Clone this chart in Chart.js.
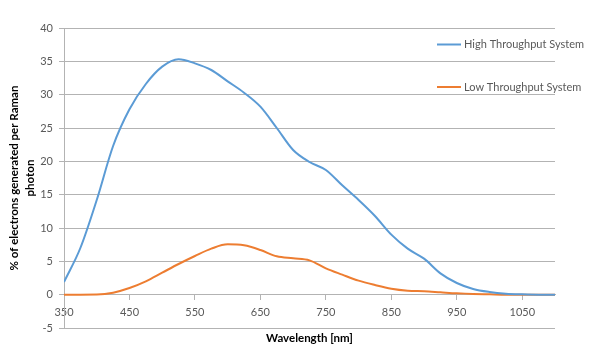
<!DOCTYPE html>
<html>
<head>
<meta charset="utf-8">
<script src="https://cdn.jsdelivr.net/npm/chart.js@4"></script>
<style>
  html, body { margin: 0; padding: 0; background: #ffffff; }
  #wrap { width: 600px; height: 355px; position: relative; }
</style>
</head>
<body>
<div id="wrap"><canvas id="c" width="600" height="355"></canvas></div>
<script>
// ---- data ----
const wavelengths = [350, 375, 400, 425, 450, 475, 500, 525, 550, 575, 600, 625, 650, 675, 700, 725, 750, 775, 800, 825, 850, 875, 900, 925, 950, 975, 1000, 1025, 1050, 1075, 1100];
const highThroughput = [1.9, 7.0, 14.2, 22.3, 27.8, 31.6, 34.2, 35.3, 34.7, 33.7, 32.0, 30.3, 28.2, 25.0, 21.7, 19.9, 18.7, 16.4, 14.2, 11.8, 9.0, 6.9, 5.4, 3.2, 1.75, 0.85, 0.4, 0.15, 0.05, 0, 0];
const lowThroughput = [0, 0, 0.02, 0.3, 1.0, 2.0, 3.3, 4.6, 5.8, 6.9, 7.55, 7.4, 6.7, 5.75, 5.45, 5.15, 3.95, 3.0, 2.1, 1.45, 0.9, 0.6, 0.5, 0.35, 0.2, 0.1, 0.05, 0, 0, 0, 0];
const seriesNames = ['High Throughput System', 'Low Throughput System'];
const xTickValues = [350, 450, 550, 650, 750, 850, 950, 1050];
const yTitleLines = ['% of electrons generated per Raman', 'photon'];
const xTitle = 'Wavelength [nm]';

const FONT = 'Lato, "Open Sans", sans-serif';
const GRID = '#b3b3b3';
const TXT = '#595959';

function toPoints(xs, ys) { return xs.map((x, i) => ({ x: x, y: ys[i] })); }

const legendPlugin = {
  id: 'customLegend',
  afterDraw(chart) {
    const ctx = chart.ctx;
    const rows = [44.5, 87];
    ctx.save();
    chart.data.datasets.forEach((ds, i) => {
      const y = rows[i];
      ctx.strokeStyle = ds.borderColor;
      ctx.lineWidth = 2;
      ctx.beginPath();
      ctx.moveTo(437, y);
      ctx.lineTo(461, y);
      ctx.stroke();
      ctx.fillStyle = TXT;
      ctx.font = '11px ' + FONT;
      ctx.textBaseline = 'middle';
      ctx.textAlign = 'left';
      ctx.fillText(ds.label, 464, y);
    });
    ctx.restore();
  }
};

new Chart(document.getElementById('c'), {
  type: 'line',
  data: {
    datasets: [
      {
        label: seriesNames[0],
        data: toPoints(wavelengths, highThroughput),
        borderColor: '#5b9bd5',
        backgroundColor: '#5b9bd5',
        borderWidth: 2,
        pointRadius: 0,
        cubicInterpolationMode: 'monotone',
        fill: false
      },
      {
        label: seriesNames[1],
        data: toPoints(wavelengths, lowThroughput),
        borderColor: '#ed7d31',
        backgroundColor: '#ed7d31',
        borderWidth: 2,
        pointRadius: 0,
        cubicInterpolationMode: 'monotone',
        fill: false
      }
    ]
  },
  options: {
    responsive: false,
    animation: false,
    layout: { padding: { top: 28, right: 45, left: 0, bottom: 0 } },
    plugins: {
      legend: { display: false },
      tooltip: { enabled: false },
      title: {
        display: true,
        position: 'bottom',
        fullSize: false,
        text: xTitle,
        color: '#000000',
        font: { family: FONT, size: 11.5, weight: 'bold', lineHeight: 1.2 },
        padding: { top: 3.2, bottom: 10 }
      }
    },
    scales: {
      x: {
        type: 'linear',
        position: { y: 0 },
        min: 350,
        max: 1100,
        afterBuildTicks(scale) {
          scale.ticks = xTickValues.map(v => ({ value: v }));
        },
        ticks: {
          color: TXT,
          font: { family: FONT, size: 11 },
          padding: 6,
          maxRotation: 0,
          autoSkip: false,
          callback: (v) => String(v)
        },
        grid: {
          display: true,
          drawOnChartArea: false,
          drawTicks: true,
          tickLength: 5,
          color: GRID
        },
        border: { display: true, color: GRID, width: 1 }
      },
      y: {
        type: 'linear',
        position: 'left',
        min: -5,
        max: 40,
        afterFit(scale) { scale.width = 64; },
        ticks: {
          stepSize: 5,
          color: TXT,
          font: { family: FONT, size: 11 },
          padding: 6
        },
        grid: {
          color: GRID,
          lineWidth: 1,
          drawTicks: true,
          tickLength: 5
        },
        border: { display: true, color: GRID, width: 1 },
        title: {
          display: true,
          text: yTitleLines,
          color: '#000000',
          font: { family: FONT, size: 11.5, weight: 'bold', lineHeight: 1.4 },
          padding: { top: 6, bottom: 0 }
        }
      }
    }
  },
  plugins: [legendPlugin]
});
</script>
</body>
</html>
